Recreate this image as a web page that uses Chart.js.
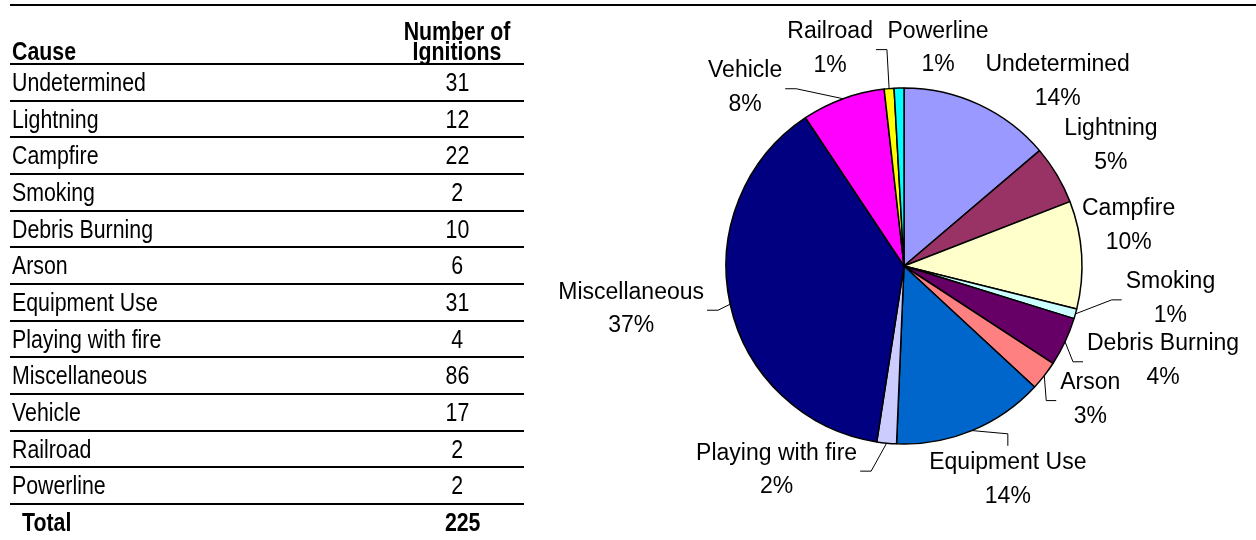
<!DOCTYPE html>
<html>
<head>
<meta charset="utf-8">
<title>Ignitions by Cause</title>
<script src="https://cdn.jsdelivr.net/npm/chart.js@4"></script>
<style>
    html, body { margin: 0; padding: 0; background: #fff; }
    body { width: 1256px; height: 540px; position: relative; overflow: hidden; }
    #rule { position: absolute; left: 10px; top: 4px; width: 1246px; height: 2px; background: #000; }
    #pie { position: absolute; left: 0; top: 0; }
    #cause-table {
        position: absolute; left: 10px; top: 6px; width: 514px; z-index: 2;
        font-family: "Liberation Sans Narrow", "Liberation Sans", Arial, sans-serif;
        font-size: 26px; color: #000;
    }
    .row { display: flex; height: 34.67px; line-height: 34.67px; border-bottom: 2px solid #000; }
    .row .name { flex: 1; padding-left: 2px; white-space: nowrap; }
    .row .num { width: 134px; text-align: center; white-space: nowrap; }
    /* no narrow face installed, so squeeze Liberation Sans to Arial Narrow width */
    .t { display: inline-block; transform: scaleX(0.82); }
    .name .t { transform-origin: left center; }
    .num .t { transform-origin: center center; }
    .head { height: 55px; padding-bottom: 2px; line-height: 20px; font-weight: bold; align-items: flex-end; }
    .total { border-bottom: none; font-weight: bold; height: 34px; line-height: 34px; }
    .total .name { padding-left: 12px; }
    .total .num { padding-left: 12px; width: 122px; }
</style>
</head>
<body>
<div id="rule"></div>
<canvas id="pie" width="1256" height="540"></canvas>
<div id="cause-table"></div>

<script>
const causes = ['Undetermined', 'Lightning', 'Campfire', 'Smoking', 'Debris Burning', 'Arson',
    'Equipment Use', 'Playing with fire', 'Miscellaneous', 'Vehicle', 'Railroad', 'Powerline'];
const ignitions = [31, 12, 22, 2, 10, 6, 31, 4, 86, 17, 2, 2];
const pctLabels = ['14%', '5%', '10%', '1%', '4%', '3%', '14%', '2%', '37%', '8%', '1%', '1%'];

// slice colours (Excel default palette)
const sliceColors = ['#9999FF', '#993366', '#FFFFCC', '#CCFFFF', '#660066', '#FF8080',
    '#0066CC', '#CCCCFF', '#000080', '#FF00FF', '#FFFF00', '#00FFFF'];

// label placement: offset of label block from the slice's outer edge point, and leader line on/off
const labelOffset = [[79, -23], [54, -29], [47, -29], [95, -15], [98, 19], [46, 24],
    [36, 49], [-110, 27], [-99, 5], [-98, -11], [-59, -40], [39, -40]];
const hasLeader = [false, false, false, true, true, true, true, true, true, true, true, false];

// build table
function buildTable() {
    const tbl = document.getElementById('cause-table');
    let html = '<div class="row head"><div class="name"><span class="t">Cause</span></div>' +
        '<div class="num"><span class="t">Number of<br>Ignitions</span></div></div>';
    causes.forEach((c, i) => {
        html += `<div class="row"><div class="name"><span class="t">${c}</span></div>` +
            `<div class="num"><span class="t">${ignitions[i]}</span></div></div>`;
    });
    const total = ignitions.reduce((a, b) => a + b, 0);
    html += `<div class="row total"><div class="name"><span class="t">Total</span></div>` +
        `<div class="num"><span class="t">${total}</span></div></div>`;
    tbl.innerHTML = html;
}
buildTable();

const LABEL_FONT = '23px "Liberation Sans", Arial, sans-serif';
const LINE_H = 33.5;

const pieLabels = {
    id: 'pieLabels',
    afterDatasetsDraw(chart) {
        const ctx = chart.ctx;
        const meta = chart.getDatasetMeta(0);
        ctx.save();
        ctx.font = LABEL_FONT;
        ctx.fillStyle = '#000';
        ctx.textAlign = 'center';
        ctx.textBaseline = 'middle';
        meta.data.forEach((arc, i) => {
            const p = arc.getProps(['x', 'y', 'startAngle', 'endAngle', 'outerRadius'], true);
            const mid = (p.startAngle + p.endAngle) / 2;
            const ex = p.x + p.outerRadius * Math.cos(mid);
            const ey = p.y + p.outerRadius * Math.sin(mid);
            const cx = ex + labelOffset[i][0];
            const cy = ey + labelOffset[i][1];
            const lines = [causes[i], pctLabels[i]];
            lines.forEach((t, k) => {
                ctx.fillText(t, cx, cy + (k - 0.5) * LINE_H);
            });

            if (hasLeader[i]) {
                const w = Math.max(...lines.map(t => ctx.measureText(t).width));
                const left = cx - w / 2, right = cx + w / 2;
                const top = cy - LINE_H / 2 - 17;
                let sx, sy, kx, ky;
                if (ex > right) {
                    sx = right + 3; sy = cy + 1; kx = sx + 11; ky = sy;
                } else if (ex < left) {
                    sx = left - 4; sy = cy + 1; kx = sx - 10; ky = sy;
                } else {
                    sx = cx; sy = top; kx = sx; ky = sy - 12;
                }
                ctx.beginPath();
                ctx.strokeStyle = '#000';
                ctx.lineWidth = 1;
                ctx.moveTo(sx, sy);
                ctx.lineTo(kx, ky);
                ctx.lineTo(ex, ey);
                ctx.stroke();
            }
        });
        ctx.restore();
    }
};

const ctx = document.getElementById('pie').getContext('2d');
const chart = new Chart(ctx, {
    type: 'pie',
    data: {
        labels: causes,
        datasets: [{
            data: ignitions,
            backgroundColor: sliceColors,
            borderColor: '#000',
            borderWidth: 1.5,
            radius: 178
        }]
    },
    options: {
        responsive: false,
        animation: false,
        devicePixelRatio: 1,
        layout: { padding: { left: 560, right: 8, top: 0, bottom: 8 } },
        plugins: {
            legend: { display: false },
            tooltip: { enabled: false }
        }
    },
    plugins: [pieLabels]
});
</script>
</body>
</html>
